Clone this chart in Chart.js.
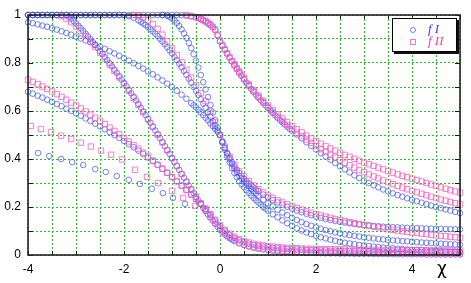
<!DOCTYPE html>
<html><head><meta charset="utf-8">
<script src="https://cdn.jsdelivr.net/npm/chart.js@4/dist/chart.umd.min.js"></script>
<style>
html,body{margin:0;padding:0;background:#fff;}
#wrap{position:relative;width:471px;height:283px;}
#legend{position:absolute;left:392px;top:18px;width:63px;height:32px;border:1px solid #000;box-shadow:2px 2px 0 #111;background:#fff;font:italic 13px "Liberation Serif",serif;}
#legend .row{position:absolute;left:0;height:12px;width:63px;}
#legend .sym{position:absolute;left:17px;top:3px;width:4px;height:4px;}
#legend .txt{position:absolute;left:35px;top:-3px;white-space:nowrap;}
#chi{position:absolute;left:437px;top:258px;font:17px "DejaVu Sans",sans-serif;color:#000;}
</style></head>
<body>
<div id="wrap">
<canvas id="c" width="471" height="283"></canvas>
<div id="legend">
 <div class="row" style="top:5px"><div class="sym" style="border:1px solid rgba(80,100,240,0.8);border-radius:50%"></div><div class="txt" style="color:#3340ff">f I</div></div>
 <div class="row" style="top:17px"><div class="sym" style="border:1px solid rgba(255,90,190,0.85);"></div><div class="txt" style="color:#ff3aa8">f II</div></div>
</div>
<div id="chi">χ</div>
</div>
<script>
const _ = null;
const chi = [
 -4.0,-3.9,-3.8,-3.7,-3.6,-3.5,-3.4,-3.3,-3.2,-3.1,
 -3.0,-2.9,-2.8,-2.7,-2.6,-2.5,-2.4,-2.3,-2.2,-2.1,
 -2.0,-1.9,-1.8,-1.7,-1.6,-1.5,-1.4,-1.3,-1.2,-1.1,
 -1.0,-0.9,-0.8,-0.7,-0.6,-0.5,-0.4,-0.3,-0.2,-0.1,
 0.0,0.1,0.2,0.3,0.4,0.5,0.6,0.7,0.8,0.9,
 1.0,1.1,1.2,1.3,1.4,1.5,1.6,1.7,1.8,1.9,
 2.0,2.1,2.2,2.3,2.4,2.5,2.6,2.7,2.8,2.9,
 3.0,3.1,3.2,3.3,3.4,3.5,3.6,3.7,3.8,3.9,
 4.0,4.1,4.2,4.3,4.4,4.5,4.6,4.7,4.8,4.9,
 5.0];

// ---- f I (blue circles) ----
const fI_P1 = [
 1,1,1,1,1,1,1,1,1,0.985,
 0.965,0.945,0.922,0.899,0.875,0.850,0.825,0.799,0.772,0.745,
 0.717,0.688,0.659,0.629,0.598,0.567,0.535,0.503,0.470,0.437,
 0.404,0.371,0.338,0.305,0.273,0.242,0.212,0.183,0.156,0.130,
 0.106,0.086,0.070,0.058,0.048,0.041,0.035,0.030,0.026,0.023,
 0.020,0.018,0.016,0.014,0.013,0.012,0.011,0.010,0.009,0.009,
 0.008,0.008,0.007,0.007,0.007,0.006,0.006,0.006,0.005,0.005,
 0.005,0.005,0.004,0.004,0.004,0.004,0.004,0.003,0.003,0.003,
 0.003,0.003,0.003,0.002,0.002,0.002,0.002,0.002,0.002,0.002,
 0.002];
const chi_P1_mid = [-3.15,-3.05,-2.95,-2.85,-2.75,-2.65,-2.55,-2.45,-2.35,-2.25,
 -2.15,-2.05,-1.95,-1.85,-1.75,-1.65,-1.55,-1.45,-1.35,-1.25,
 -1.15,-1.05,-0.95,-0.85,-0.75,-0.65,-0.55,-0.45,-0.35,-0.25,
 -0.15,-0.05,0.05,0.15,0.25];
const fI_P1_mid = [0.993,0.975,0.955,0.934,0.911,0.887,0.863,0.838,0.812,0.786,
 0.759,0.731,0.703,0.674,0.644,0.614,0.583,0.551,0.519,0.487,
 0.454,0.421,0.388,0.355,0.322,0.289,0.258,0.227,0.197,0.169,
 0.143,0.118,0.096,0.078,0.064];
const fI_L2 = [
 0.680,0.672,0.664,0.656,0.647,0.638,0.629,0.620,0.610,0.600,
 0.590,0.580,0.569,0.558,0.547,0.536,0.524,0.512,0.500,0.488,
 0.475,0.462,0.449,0.435,0.421,0.406,0.391,0.375,0.359,0.342,
 0.325,0.307,0.289,0.271,0.252,0.233,0.214,0.192,0.168,0.144,
 0.121,0.101,0.084,0.071,0.061,0.053,0.047,0.042,0.038,0.035,
 0.032,0.030,0.028,0.026,0.025,0.024,0.023,0.022,0.021,0.020,
 0.020,0.019,0.019,0.018,0.018,0.017,0.017,0.017,0.016,0.016,
 0.016,0.015,0.015,0.015,0.015,0.014,0.014,0.014,0.014,0.014,
 0.013,0.013,0.013,0.013,0.013,0.013,0.012,0.012,0.012,0.012,
 0.012];
const fI_Bslow = [
 0.970,0.966,0.961,0.956,0.951,0.945,0.939,0.932,0.925,0.918,
 0.910,0.902,0.894,0.886,0.877,0.868,0.859,0.849,0.840,0.830,
 0.820,0.810,0.799,0.788,0.777,0.765,0.753,0.740,0.727,0.714,
 0.700,0.684,0.668,0.651,0.633,0.615,0.594,0.572,0.549,0.525,
 0.500,0.448,0.405,0.370,0.342,0.318,0.298,0.281,0.266,0.252,
 0.240,0.229,0.219,0.210,0.201,0.193,0.185,0.178,0.172,0.166,
 0.160,0.155,0.150,0.146,0.142,0.138,0.135,0.132,0.129,0.127,
 0.125,0.123,0.121,0.120,0.118,0.117,0.116,0.115,0.114,0.113,
 0.112,0.112,0.111,0.110,0.110,0.109,0.109,0.108,0.108,0.107,
 0.107];
const chi_Bslow_mid = [-0.55,-0.45,-0.35,-0.25,-0.15,-0.05,0.05,0.15,0.25,0.35,0.45,0.55,0.65,0.75];
const fI_Bslow_mid = [0.624,0.605,0.583,0.561,0.537,0.513,0.473,0.425,0.387,0.355,0.330,0.308,0.289,0.273];
const fI_B2 = [
 1,1,1,1,1,1,1,1,1,1,
 1,1,1,1,1,1,1,1,1,1,
 1.000,0.995,0.988,0.978,0.965,0.950,0.932,0.912,0.890,0.866,
 0.840,0.812,0.782,0.751,0.718,0.684,0.649,0.613,0.576,0.538,
 0.500,0.445,0.398,0.360,0.330,0.308,0.286,0.265,0.247,0.230,
 0.215,0.202,0.189,0.177,0.166,0.155,0.146,0.137,0.129,0.122,
 0.115,0.109,0.104,0.099,0.094,0.090,0.086,0.083,0.080,0.077,
 0.074,0.072,0.069,0.067,0.065,0.063,0.061,0.060,0.058,0.057,
 0.055,0.054,0.052,0.051,0.050,0.048,0.047,0.046,0.045,0.044,
 0.043];
const chi_B2_mid = [-1.65,-1.55,-1.45,-1.35,-1.25,-1.15,-1.05,-0.95,-0.85,-0.75,
 -0.65,-0.55,-0.45,-0.35,-0.25,-0.15,-0.05,0.05,0.15,0.25,0.35,0.45,0.55,0.65,0.75];
const fI_B2_mid = [0.972,0.958,0.941,0.922,0.901,0.878,0.853,0.826,0.797,0.767,
 0.735,0.701,0.667,0.631,0.595,0.557,0.519,0.472,0.421,0.379,0.345,0.319,0.297,0.275,0.256];
const fI_B3 = [
 1,1,1,1,1,1,1,1,1,1,
 1,1,1,1,1,1,1,1,1,1,
 1,1,1,1,1,1,1,1,1,0.997,
 0.985,0.967,0.940,0.905,0.862,0.810,0.750,0.690,0.625,0.562,
 0.500,0.438,0.385,0.342,0.308,0.282,0.259,0.238,0.219,0.201,
 0.185,0.170,0.157,0.144,0.132,0.121,0.111,0.102,0.094,0.087,
 0.080,0.074,0.069,0.064,0.059,0.055,0.051,0.048,0.045,0.042,
 0.040,0.037,0.035,0.033,0.031,0.029,0.028,0.026,0.025,0.023,
 0.022,0.021,0.020,0.019,0.018,0.017,0.016,0.015,0.014,0.014,
 0.013];
const chi_B3_mid = [-1.05,-0.95,-0.85,-0.75,-0.65,-0.55,-0.45,-0.35,-0.25,-0.15,-0.05,
 0.05,0.15,0.25,0.35,0.45,0.55,0.65,0.75,0.85,0.95];
const fI_B3_mid = [0.992,0.977,0.954,0.923,0.884,0.837,0.781,0.720,0.658,0.594,0.531,
 0.469,0.410,0.362,0.324,0.294,0.270,0.248,0.228,0.210,0.193];
const fI_R1 = [
 _,_,_,_,_,_,_,_,_,_,
 _,_,_,_,_,_,_,_,_,_,
 _,_,_,_,_,_,_,_,1,1,
 1,1,0.999,0.997,0.994,0.990,0.983,0.973,0.958,0.937,
 0.890,0.855,0.822,0.790,0.760,0.732,0.705,0.680,0.656,0.634,
 0.613,0.592,0.572,0.553,0.535,0.518,0.502,0.486,0.470,0.455,
 0.440,0.425,0.411,0.397,0.383,0.370,0.357,0.344,0.332,0.321,
 0.310,0.300,0.291,0.282,0.273,0.265,0.257,0.250,0.243,0.236,
 0.230,0.224,0.218,0.212,0.206,0.200,0.195,0.190,0.185,0.180,
 0.175];
const chi_R1_mid = [-0.35,-0.25,-0.15,-0.05,0.05,0.15,0.25,0.35,0.45,0.55,
 0.65,0.75,0.85,0.95,1.05,1.15,1.25,1.35,1.45];
const fI_R1_mid = [0.978,0.966,0.948,0.915,0.872,0.838,0.806,0.775,0.746,0.718,
 0.692,0.668,0.645,0.623,0.602,0.582,0.562,0.544,0.526];
const chi_L3_I = [-3.79,-3.56,-3.31,-3.08,-2.85,-2.60,-2.38,-2.15,-1.90,-1.67,-1.42,-1.19,-0.98,-0.73];
const fI_L3 = [0.425,0.412,0.400,0.387,0.375,0.358,0.346,0.329,0.313,0.296,0.276,0.258,0.238,0.213];

// ---- f II (pink squares) ----
const fII_P1 = [
 _,_,_,_,_,_,_,0.995,0.985,0.970,
 0.952,0.933,0.912,0.890,0.867,0.843,0.818,0.793,0.767,0.740,
 0.712,0.684,0.655,0.625,0.595,0.564,0.533,0.501,0.469,0.436,
 0.403,0.370,0.337,0.305,0.274,0.244,0.215,0.187,0.160,0.135,
 0.112,0.092,0.076,0.063,0.053,0.045,0.039,0.034,0.030,0.027,
 0.024,0.022,0.020,0.018,0.017,0.016,0.015,0.014,0.013,0.013,
 0.012,0.012,0.011,0.011,0.011,0.010,0.010,0.010,0.010,0.009,
 0.009,0.009,0.009,0.009,0.008,0.008,0.008,0.008,0.008,0.008,
 0.007,0.007,0.007,0.007,0.007,0.007,0.007,0.006,0.006,0.006,
 0.006];
const fII_L2 = [
 0.730,0.721,0.712,0.702,0.692,0.681,0.670,0.659,0.647,0.635,
 0.623,0.611,0.598,0.585,0.572,0.559,0.545,0.531,0.517,0.503,
 0.488,0.473,0.458,0.443,0.427,0.411,0.394,0.377,0.360,0.343,
 0.325,0.307,0.289,0.271,0.252,0.233,0.214,0.193,0.170,0.147,
 0.125,0.105,0.089,0.076,0.066,0.058,0.052,0.047,0.043,0.040,
 0.037,0.035,0.033,0.031,0.030,0.029,0.028,0.027,0.026,0.026,
 0.025,0.025,0.024,0.024,0.024,0.023,0.023,0.023,0.022,0.022,
 0.022,0.022,0.021,0.021,0.021,0.021,0.021,0.020,0.020,0.020,
 0.020,0.020,0.020,0.019,0.019,0.019,0.019,0.019,0.019,0.019,
 0.019];
const fII_Pmid = [
 _,_,_,_,_,_,_,_,_,_,
 _,_,_,_,_,_,_,_,_,_,
 _,_,1.000,0.997,0.990,0.978,0.962,0.942,0.918,0.890,
 0.862,0.833,0.803,0.772,0.740,0.708,0.675,0.641,0.600,0.552,
 0.500,0.452,0.410,0.377,0.350,0.328,0.308,0.290,0.275,0.261,
 0.248,0.238,0.228,0.219,0.211,0.203,0.196,0.189,0.182,0.176,
 0.170,0.165,0.160,0.155,0.150,0.145,0.141,0.137,0.133,0.129,
 0.125,0.122,0.118,0.115,0.111,0.108,0.105,0.102,0.099,0.097,
 0.094,0.092,0.089,0.087,0.084,0.082,0.080,0.078,0.076,0.074,
 0.072];
const fII_R1 = [
 _,_,_,_,_,_,_,_,_,_,
 _,_,_,_,_,_,_,_,_,_,
 _,_,_,_,_,_,_,_,_,_,
 _,_,_,1.000,0.996,0.991,0.984,0.974,0.960,0.940,
 0.893,0.858,0.825,0.794,0.765,0.737,0.711,0.687,0.664,0.643,
 0.623,0.604,0.586,0.569,0.553,0.538,0.524,0.511,0.498,0.486,
 0.475,0.464,0.454,0.444,0.435,0.426,0.417,0.409,0.401,0.393,
 0.385,0.378,0.371,0.364,0.357,0.350,0.343,0.336,0.330,0.324,
 0.318,0.312,0.306,0.300,0.294,0.288,0.282,0.276,0.270,0.265,
 0.260];
const chi_R1_mid_II = [-0.45,-0.35,-0.25,-0.15,-0.05,0.05,0.15,0.25,0.35,0.45];
const fII_R1_mid = [0.988,0.979,0.967,0.951,0.918,0.875,0.841,0.809,0.779,0.751];
const fII_R1b = [
 _,_,_,_,_,_,_,_,_,_,
 _,_,_,_,_,_,_,_,_,_,
 _,_,_,_,_,_,_,_,_,_,
 _,_,_,_,_,_,_,_,_,_,
 _,_,_,0.792,0.762,0.734,0.707,0.682,0.659,0.637,
 0.616,0.596,0.577,0.559,0.542,0.526,0.510,0.495,0.481,0.467,
 0.454,0.441,0.429,0.417,0.406,0.395,0.384,0.374,0.364,0.354,
 0.345,0.336,0.327,0.319,0.311,0.303,0.295,0.288,0.281,0.274,
 0.267,0.261,0.255,0.249,0.243,0.237,0.231,0.226,0.221,0.216,
 0.211];
const chi_L3_II = [-3.94,-3.73,-3.52,-3.31,-3.10,-2.90,-2.69,-2.48,-2.27,-2.04,-1.77,-1.52,-1.29,-1.00,-0.77,-0.52];
const fII_L3 = [0.538,0.525,0.512,0.497,0.483,0.468,0.452,0.435,0.418,0.398,0.355,0.325,0.300,0.267,0.238,0.205];

const xTickLabels = ['-4','-2','0','2','4'];
const yTickLabels = ['0','0.2','0.4','0.6','0.8','1'];

function pts(xs, ys){ const out=[]; for(let i=0;i<xs.length;i++){ if(ys[i]!==null && ys[i]!==undefined) out.push({x:xs[i], y:ys[i]}); } return out; }

const BLUE = 'rgba(60,80,240,0.7)';
const PINK = 'rgba(255,85,185,0.75)';
function blue(label, data){ return {label, data, showLine:false, pointStyle:'circle', pointRadius:2.8, pointBorderWidth:1, pointBorderColor:BLUE, pointBackgroundColor:'rgba(0,0,0,0)', borderColor:BLUE, backgroundColor:'rgba(0,0,0,0)', clip:false}; }
function pink(label, data){ return {label, data, showLine:false, pointStyle:'rect', pointRadius:3.8, pointBorderWidth:1, pointBorderColor:PINK, pointBackgroundColor:'rgba(0,0,0,0)', borderColor:PINK, backgroundColor:'rgba(0,0,0,0)', clip:false}; }

const datasets = [
 pink('f II', pts(chi, fII_P1)),
 pink('f II', pts(chi, fII_L2)),
 pink('f II', pts(chi_L3_II, fII_L3)),
 pink('f II', pts(chi, fII_Pmid)),
 pink('f II', pts(chi, fII_R1)),
 pink('f II', pts(chi_R1_mid_II, fII_R1_mid)),
 pink('f II', pts(chi, fII_R1b)),
 blue('f I', pts(chi, fI_P1)),
 blue('f I', pts(chi_P1_mid, fI_P1_mid)),
 blue('f I', pts(chi, fI_L2)),
 blue('f I', pts(chi_L3_I, fI_L3)),
 blue('f I', pts(chi, fI_Bslow)),
 blue('f I', pts(chi_Bslow_mid, fI_Bslow_mid)),
 blue('f I', pts(chi, fI_B2)),
 blue('f I', pts(chi_B2_mid, fI_B2_mid)),
 blue('f I', pts(chi, fI_B3)),
 blue('f I', pts(chi_B3_mid, fI_B3_mid)),
 blue('f I', pts(chi, fI_R1)),
 blue('f I', pts(chi_R1_mid, fI_R1_mid)),
];

const frame = {
 id:'frame',
 afterDraw(chart){
  const {ctx, chartArea:{left,right,top,bottom}, scales:{x,y}} = chart;
  ctx.save();
  ctx.strokeStyle = '#1a1a1a'; ctx.lineWidth = 1;
  ctx.beginPath();
  x.ticks.forEach(t=>{ const p = Math.round(x.getPixelForValue(t.value))+0.5;
    ctx.moveTo(p,bottom); ctx.lineTo(p,bottom-4); ctx.moveTo(p,top); ctx.lineTo(p,top+4); });
  y.ticks.forEach(t=>{ const p = Math.round(y.getPixelForValue(t.value))+0.5;
    ctx.moveTo(left,p); ctx.lineTo(left+5,p); ctx.moveTo(right,p); ctx.lineTo(right-5,p); });
  ctx.stroke();
  ctx.lineWidth = 1.6; ctx.strokeStyle = '#222';
  ctx.strokeRect(left, top, right-left, bottom-top);
  ctx.restore();
 }
};

const GRID = 'rgba(45,190,45,1)';
new Chart(document.getElementById('c'), {
 type:'scatter',
 data:{datasets},
 plugins:[frame],
 options:{
  responsive:false, animation:false, devicePixelRatio:1,
  layout:{padding:{left:0, top:15, right:11, bottom:0}},
  plugins:{legend:{display:false}, tooltip:{enabled:false}},
  scales:{
   x:{type:'linear', min:-4, max:5,
      afterFit(s){ s.height = 28; },
      border:{display:false, dash:[2,2]},
      grid:{color:GRID, lineWidth:1, drawTicks:false},
      ticks:{stepSize:0.5, autoSkip:false, maxRotation:0, padding:7, color:'#000',
        font:{family:'"Liberation Sans", Arial, sans-serif', size:12},
        callback(v){ const k = Math.round(v*2); if (k % 4 === 0) { const i = (k/4)+2; return xTickLabels[i] ?? ''; } return ''; }}},
   y:{type:'linear', min:0, max:1,
      afterFit(s){ s.width = 28; },
      border:{display:false, dash:[2,2]},
      grid:{color:GRID, lineWidth:1, drawTicks:false},
      ticks:{stepSize:0.1, autoSkip:false, padding:7, color:'#000',
        font:{family:'"Liberation Sans", Arial, sans-serif', size:12},
        callback(v){ const k = Math.round(v*10); return (k % 2 === 0) ? yTickLabels[k/2] : ''; }}}
  }
 }
});
</script>
</body></html>
